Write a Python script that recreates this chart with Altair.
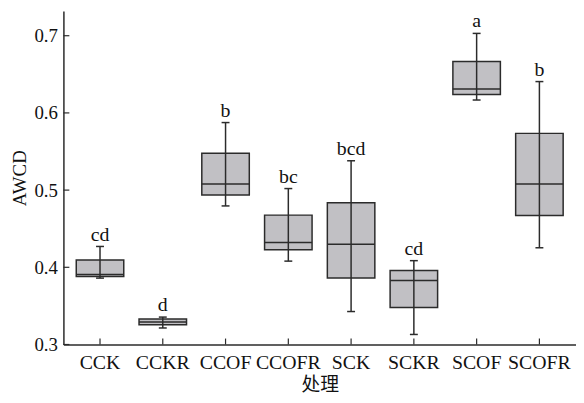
import altair as alt
import pandas as pd

cats = ["CCK", "CCKR", "CCOF", "CCOFR", "SCK", "SCKR", "SCOF", "SCOFR"]
lo = [0.386, 0.3214, 0.4795, 0.408, 0.3427, 0.313, 0.6167, 0.4253]
q1 = [0.388, 0.3256, 0.4936, 0.4227, 0.386, 0.348, 0.624, 0.467]
med = [0.3906, 0.329, 0.508, 0.432, 0.430, 0.383, 0.631, 0.508]
q3 = [0.4094, 0.333, 0.5478, 0.4676, 0.4837, 0.396, 0.6667, 0.5735]
hi = [0.427, 0.3355, 0.5875, 0.502, 0.538, 0.4086, 0.703, 0.6406]
letters = ["cd", "d", "b", "bc", "bcd", "cd", "a", "b"]
yticks = [0.3, 0.4, 0.5, 0.6, 0.7]

df = pd.DataFrame({"cat": cats, "lo": lo, "q1": q1, "med": med, "q3": q3,
                   "hi": hi, "lab": letters, "base": [0.3] * len(cats)})
tdf = pd.DataFrame({"v": yticks})

FONT = "Liberation Serif"
INK = "#2b2b2b"

xs = alt.Scale(domain=cats, paddingInner=0, paddingOuter=0.083)
ys = alt.Scale(domain=[0.3, 0.732], nice=False, zero=False)

X = alt.X("cat:N", scale=xs, sort=cats, title="处理",
          axis=alt.Axis(labelAngle=0, ticks=False, labelPadding=8,
                        labelFontSize=20,
                        titleFont="Noto Sans CJK SC", titlePadding=4))
Y_axis = alt.Axis(values=yticks, format=".1f", ticks=False, labelPadding=6,
                  titlePadding=5)

base = alt.Chart(df)

box = base.mark_bar(size=48, fill="#c1c0c4", stroke=INK, strokeWidth=1.5).encode(
    x=X,
    y=alt.Y("q1:Q", scale=ys, axis=Y_axis, title="AWCD"),
    y2="q3:Q",
)
whisk = base.mark_rule(color=INK, strokeWidth=1.5).encode(
    x=X, y=alt.Y("lo:Q", scale=ys), y2="hi:Q")
median = base.mark_tick(size=48, thickness=1.5, color=INK, opacity=1).encode(
    x=X, y=alt.Y("med:Q", scale=ys))
cap_lo = base.mark_tick(size=8, thickness=1.5, color=INK, opacity=1).encode(
    x=X, y=alt.Y("lo:Q", scale=ys))
cap_hi = base.mark_tick(size=8, thickness=1.5, color=INK, opacity=1).encode(
    x=X, y=alt.Y("hi:Q", scale=ys))
text = base.mark_text(font=FONT, fontSize=20, baseline="bottom", dy=-2,
                      color="#111").encode(
    x=X, y=alt.Y("hi:Q", scale=ys), text="lab:N")
xt = base.mark_tick(orient="vertical", size=6, thickness=1.2, color=INK,
                    yOffset=-3, opacity=1).encode(
    x=X, y=alt.Y("base:Q", scale=ys))
yt = alt.Chart(tdf).mark_tick(orient="horizontal", size=6, thickness=1.2,
                              color=INK, xOffset=3, opacity=1).encode(
    x=alt.value(0), y=alt.Y("v:Q", scale=ys))

chart = alt.layer(box, whisk, median, cap_lo, cap_hi, text, xt, yt).properties(
    width=518, height=337,
    autosize=alt.AutoSizeParams(type="none"),
    padding={"left": 56, "top": 1, "right": 0, "bottom": 50},
    background="white",
).configure_view(stroke=None).configure_axis(
    grid=False, domainColor=INK, domainWidth=1.5,
    labelFont=FONT, labelFontSize=19, labelColor="#111",
    titleFont=FONT, titleFontSize=19, titleColor="#111", titleFontWeight="normal",
)

chart.save("out.html", embed_options={"renderer": "svg", "actions": False})
